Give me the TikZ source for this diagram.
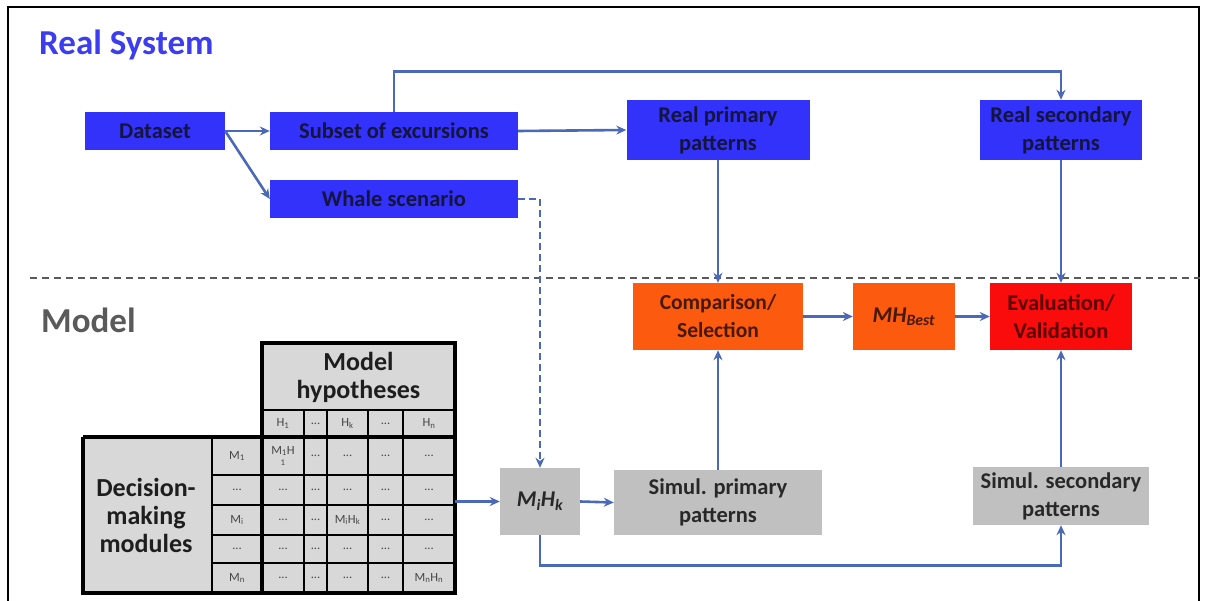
\documentclass[tikz,border=0pt]{standalone}
\usepackage{fontspec}
\setmainfont{Carlito}
\usetikzlibrary{arrows.meta,calc}
\definecolor{rblue}{RGB}{50,50,250}
\definecolor{rorange}{RGB}{252,90,15}
\definecolor{rred}{RGB}{250,12,12}
\definecolor{rgray}{RGB}{192,192,192}
\definecolor{tgray}{RGB}{216,216,216}
\definecolor{conncol}{RGB}{75,105,185}
\definecolor{titleblue}{RGB}{60,60,240}
\definecolor{modelgray}{RGB}{90,90,90}
\definecolor{celltxt}{RGB}{70,70,70}
\begin{document}
\begin{tikzpicture}[x=1pt,y=-1pt,
  box/.style={rectangle, inner sep=0pt, align=center, font=\bfseries\fontsize{22.5}{28}\selectfont},
  bluebox/.style={box, fill=rblue, text={rgb,255:red,20;green,20;blue,60}},
  orangebox/.style={box, fill=rorange, text={rgb,255:red,70;green,25;blue,5}},
  redbox/.style={box, fill=rred, text={rgb,255:red,90;green,0;blue,0}},
  graybox/.style={box, fill=rgray, text={rgb,255:red,40;green,40;blue,40}},
  conn/.style={draw=conncol, line width=2.6pt, -{Stealth[length=10pt,width=9pt]}},
  cell/.style={inner sep=0pt, align=center, text=celltxt, font=\fontsize{12.5}{10}\selectfont},
  thickline/.style={line width=3.4pt, black},
  thinline/.style={line width=1.6pt, black}
]
\useasboundingbox (0,0) rectangle (1207,601);
\fill[white] (0,0) rectangle (1207,601);
% frame
\draw[line width=2pt] (8,601) -- (8,7) -- (1199,7) -- (1199,601);

% titles
\node[anchor=west, inner sep=0pt, text=titleblue, font=\bfseries\fontsize{35}{40}\selectfont] (realsys) at (39,45) {Real System};
\node[anchor=west, inner sep=0pt, text=modelgray, font=\bfseries\fontsize{35}{40}\selectfont] (modeltitle) at (41,320) {Model};

% separator
\draw[line width=2pt, modelgray, dash pattern=on 7pt off 5pt] (30,278) -- (1200,278);

% real system boxes
\node[bluebox, minimum width=140, minimum height=38] (dataset) at (155,131) {Dataset};
\node[bluebox, minimum width=248, minimum height=38] (subset) at (394,131) {Subset of excursions};
\node[bluebox, minimum width=248, minimum height=38] (whale) at (394,199) {Whale scenario};
\node[bluebox, minimum width=183, minimum height=60] (rprim) at (718,130) {Real primary\\patterns};
\node[bluebox, minimum width=162, minimum height=60] (rsec) at (1061,130) {Real secondary\\patterns};

% model boxes
\node[orangebox, minimum width=170, minimum height=67, font=\bfseries\fontsize{21.5}{28}\selectfont] (comp) at (718,316.5) {Comparison/\\Selection};
\node[orangebox, minimum width=102, minimum height=67] (mhbest) at (904,316.5) {\textit{MH}\textsubscript{\textit{Best}}};
\node[redbox, minimum width=142, minimum height=67] (eval) at (1061,316.5) {Evaluation/\\Validation};
\node[graybox, minimum width=80, minimum height=67] (mihk) at (540,501.5) {\textit{M\textsubscript{i}H\textsubscript{k}}};
\node[graybox, minimum width=208, minimum height=65] (sprim) at (718,502.5) {Simul. primary\\patterns};
\node[graybox, minimum width=176, minimum height=58] (ssec) at (1061,496) {Simul. secondary\\patterns};

% table
\node[rectangle, inner sep=0pt, fill=tgray, minimum width=193, minimum height=94] (thead) at (358.5,390) {};
\node[rectangle, inner sep=0pt, fill=tgray, minimum width=372, minimum height=156] (tbl) at (269,515) {};
% grid lines
\foreach \x in {304,327,368,403} \draw[thinline] (\x,410) -- (\x,593);
\draw[thinline] (212,437) -- (212,593);
\draw[thinline] (262,410) -- (455,410);
\foreach \y in {475,505,535,563} \draw[thinline] (212,\y) -- (455,\y);
\draw[thickline] (83,437) -- (455,437);
\draw[thickline] (262,437) -- (262,593);
\draw[thickline] (262,437) -- (262,343) -- (455,343) -- (455,593) -- (83,593) -- (83,437);
% header texts
\node[inner sep=0pt, align=center, font=\bfseries\fontsize{26}{28}\selectfont, text={rgb,255:red,30;green,30;blue,30}] (mhyp) at (358.5,377) {Model\\hypotheses};
\node[inner sep=0pt, align=center, font=\bfseries\fontsize{26}{28}\selectfont, text={rgb,255:red,30;green,30;blue,30}] (dmm) at (146,515) {Decision-\\making\\modules};
% H row
\node[cell] (h1) at (283,423.5) {H\textsubscript{1}};
\node[cell] (hd1) at (315.5,423.5) {...};
\node[cell] (hk) at (347.5,423.5) {H\textsubscript{k}};
\node[cell] (hd2) at (385.5,423.5) {...};
\node[cell] (hn) at (429,423.5) {H\textsubscript{n}};
% M column
\node[cell] (m1) at (237,456) {M\textsubscript{1}};
\node[cell] (md1) at (237,490) {...};
\node[cell] (mi) at (237,520) {M\textsubscript{i}};
\node[cell] (md2) at (237,549) {...};
\node[cell] (mn) at (237,578) {M\textsubscript{n}};
% row 1
\node[cell] (c11) at (283,456) {M\textsubscript{1}H\\\textsubscript{1}};
\node[cell] (c12) at (315.5,456) {...};
\node[cell] (c13) at (347.5,456) {...};
\node[cell] (c14) at (385.5,456) {...};
\node[cell] (c15) at (429,456) {...};
% row 2
\node[cell] (c21) at (283,490) {...};
\node[cell] (c22) at (315.5,490) {...};
\node[cell] (c23) at (347.5,490) {...};
\node[cell] (c24) at (385.5,490) {...};
\node[cell] (c25) at (429,490) {...};
% row 3
\node[cell] (c31) at (283,520) {...};
\node[cell] (c32) at (315.5,520) {...};
\node[cell] (c33) at (347.5,520) {M\textsubscript{i}H\textsubscript{k}};
\node[cell] (c34) at (385.5,520) {...};
\node[cell] (c35) at (429,520) {...};
% row 4
\node[cell] (c41) at (283,549) {...};
\node[cell] (c42) at (315.5,549) {...};
\node[cell] (c43) at (347.5,549) {...};
\node[cell] (c44) at (385.5,549) {...};
\node[cell] (c45) at (429,549) {...};
% row 5
\node[cell] (c51) at (283,578) {...};
\node[cell] (c52) at (315.5,578) {...};
\node[cell] (c53) at (347.5,578) {...};
\node[cell] (c54) at (385.5,578) {...};
\node[cell] (c55) at (429,578) {M\textsubscript{n}H\textsubscript{n}};

% connectors
\draw[conn] (dataset.east) -- (subset.west);
\draw[conn] (dataset.east) -- (whale.west);
\draw[conn] (subset.east) -- (rprim.west);
\draw[conn] (subset.north) -- ++(0,-40) -| (rsec.north);
\draw[conn] (rprim.south) -- (comp.north);
\draw[conn] (rsec.south) -- (eval.north);
\draw[conn, dash pattern=on 7pt off 4pt] (whale.east) -| (mihk.north);
\draw[conn] (tbl.east |- mihk.west) -- (mihk.west);
\draw[conn] (mihk.east) -- (sprim.west);
\draw[conn] (sprim.north) -- (comp.south);
\draw[conn] (comp.east) -- (mhbest.west);
\draw[conn] (mhbest.east) -- (eval.west);
\draw[conn] (ssec.north) -- (eval.south);
\draw[conn] (mihk.south) -- ++(0,30) -| (ssec.south);
\end{tikzpicture}
\end{document}
